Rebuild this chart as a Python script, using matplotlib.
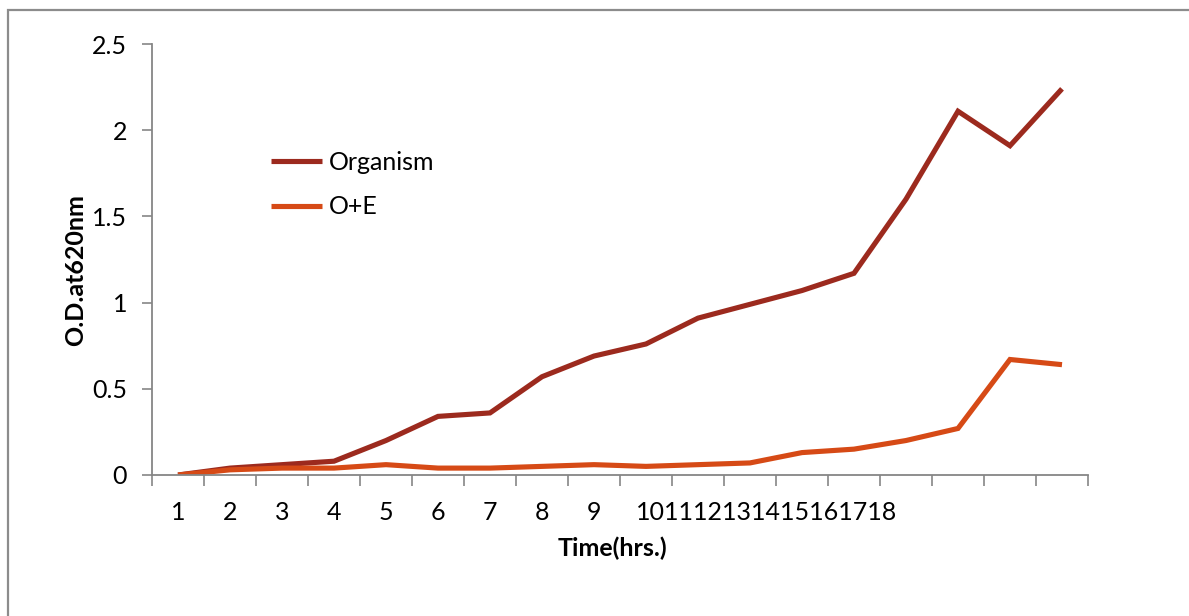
import matplotlib
matplotlib.use("Agg")
import matplotlib.pyplot as plt
from matplotlib.patches import Rectangle
from matplotlib.transforms import blended_transform_factory

# Growth curve readings (O.D. at 620 nm)
time_labels = [str(h) for h in range(1, 19)]
organism = [0.0, 0.04, 0.06, 0.08, 0.20, 0.34, 0.36, 0.57, 0.69, 0.76,
            0.91, 0.99, 1.07, 1.17, 1.60, 2.11, 1.91, 2.24]
org_plus_e = [0.0, 0.03, 0.04, 0.04, 0.06, 0.04, 0.04, 0.05, 0.06, 0.05,
              0.06, 0.07, 0.13, 0.15, 0.20, 0.27, 0.67, 0.64]
y_ticks = [0, 0.5, 1, 1.5, 2, 2.5]
y_tick_labels = ["0", "0.5", "1", "1.5", "2", "2.5"]

plt.rcParams["font.family"] = ["Lato", "DejaVu Sans"]
FS = 18
AXIS_GREY = "#868686"

fig = plt.figure(figsize=(11.89, 6.16), dpi=100)
ax = fig.add_axes([152 / 1189, 141 / 616, 936 / 1189, 431 / 616])

x = list(range(len(time_labels)))
ax.plot(x, organism, color="#9C2A1E", linewidth=3.7, label="Organism",
        solid_joinstyle="miter", solid_capstyle="butt")
ax.plot(x, org_plus_e, color="#D64A16", linewidth=3.7, label="O+E",
        solid_joinstyle="miter", solid_capstyle="butt")

ax.set_xlim(-0.5, len(time_labels) - 0.5)
ax.set_ylim(0, 2.5)

# spines
for side in ("top", "right"):
    ax.spines[side].set_visible(False)
for side in ("left", "bottom"):
    ax.spines[side].set_color(AXIS_GREY)
    ax.spines[side].set_linewidth(1.3)

# y ticks
ax.set_yticks(y_ticks)
ax.set_yticklabels(y_tick_labels, fontsize=FS)
ax.tick_params(axis="y", direction="out", length=7, width=1.2,
               color=AXIS_GREY, pad=11)

# x ticks between categories, labels drawn as text
ax.set_xticks([i - 0.5 for i in range(len(time_labels) + 1)])
ax.set_xticklabels([])
ax.tick_params(axis="x", direction="out", length=8, width=1.2,
               color=AXIS_GREY)

trans = blended_transform_factory(ax.transData, ax.transAxes)
label_y = -37 / 431
for i, lab in enumerate(time_labels[:9]):
    ax.text(i, label_y, lab, transform=trans, ha="center", va="center",
            fontsize=FS)
# labels 10..18 run together in the source chart
ax.text(9 - 0.2, label_y, "".join(time_labels[9:]), transform=trans,
        ha="left", va="center", fontsize=FS)

ax.set_xlabel("Time(hrs.)", fontsize=FS, fontweight="bold")
ax.xaxis.set_label_coords((612 - 152) / 936, (475 - 537) / 431)
ax.set_ylabel("O.D.at620nm", fontsize=FS, fontweight="bold")
ax.yaxis.set_label_coords((87 - 152) / 936, (475 - 270) / 431)

ax.legend(loc="upper left", bbox_to_anchor=(271 / 1189, 1 - 151 / 616),
          bbox_transform=fig.transFigure, frameon=False, fontsize=FS,
          handlelength=2.05, handletextpad=0.25, labelspacing=0.85,
          borderaxespad=0, borderpad=0)

# outer chart-area border (only top and left visible)
fig.patches.append(Rectangle((8 / 1189, -0.1), 1.2, 1 - 10 / 616 + 0.1,
                             transform=fig.transFigure, fill=False,
                             edgecolor="#8c8c8c", linewidth=1.6))

fig.savefig("out.png", dpi=100)
